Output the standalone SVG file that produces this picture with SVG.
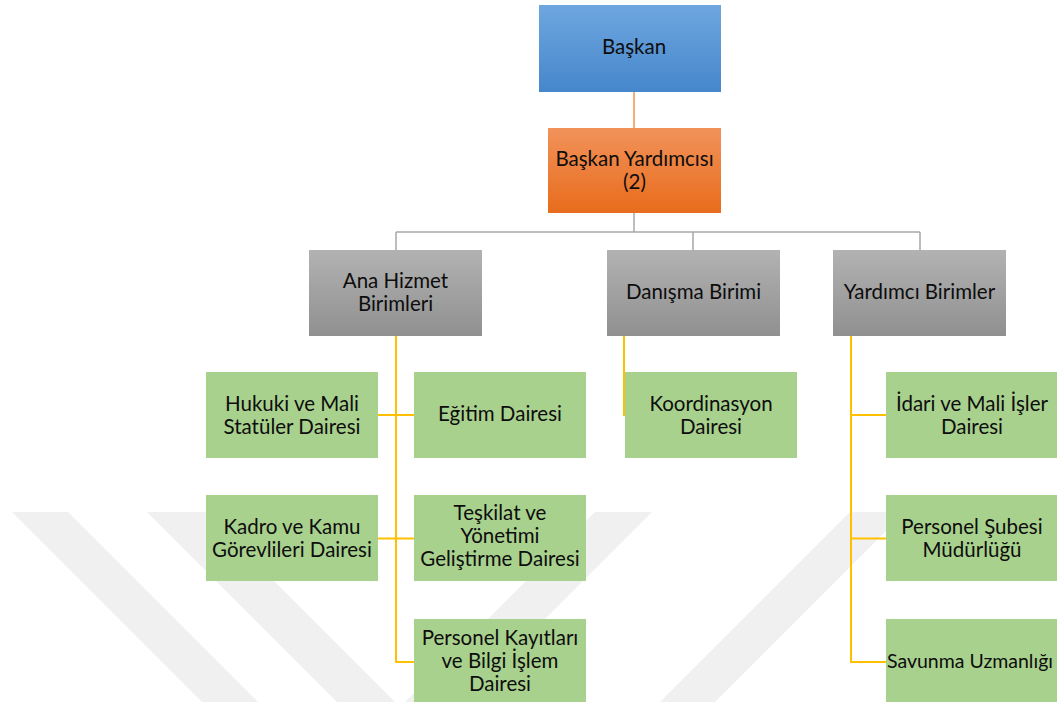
<svg xmlns="http://www.w3.org/2000/svg" width="1057" height="702" viewBox="0 0 1057 702">
  <defs>
    <linearGradient id="gBlue" x1="0" y1="0" x2="0" y2="1">
      <stop offset="0" stop-color="#6ea7e0"/>
      <stop offset="1" stop-color="#4686cb"/>
    </linearGradient>
    <linearGradient id="gOrange" x1="0" y1="0" x2="0" y2="1">
      <stop offset="0" stop-color="#f1925a"/>
      <stop offset="1" stop-color="#e86c1c"/>
    </linearGradient>
    <linearGradient id="gGray" x1="0" y1="0" x2="0" y2="1">
      <stop offset="0" stop-color="#b2b2b2"/>
      <stop offset="1" stop-color="#909090"/>
    </linearGradient>
    <style>
      text { font-family: Lato, "Liberation Sans", sans-serif; font-size: 20.5px; fill: #0d0d0d; text-anchor: middle; }
      .green { fill: #a9d18e; }
      .wm { fill: #f0f0f0; }
      .c-orange { stroke: #f0904c; stroke-width: 1.5; fill: none; }
      .c-gray { stroke: #a8a8a8; stroke-width: 1.5; fill: none; }
      .c-yellow { stroke: #ffc000; stroke-width: 2; fill: none; }
    </style>
  </defs>

  <rect width="1057" height="702" fill="#ffffff"/>

  <!-- faint background emblem -->
  <g id="emblem">
    <polygon class="wm" points="12,512 68,512 258,702 202,702"/>
    <polygon class="wm" points="147,512 205,512 400,707 462,702 652,512 595,512 400,707 337,702"/>
    <polygon class="wm" points="850,512 905,512 715,702 660,702"/>
  </g>

  <!-- connectors -->
  <g id="connectors">
    <path class="c-orange" d="M634,92 V128"/>
    <path class="c-gray" d="M634,213 V232 M396,232 H920 M396,232 V250 M693,232 V250 M920,232 V250"/>
    <path class="c-yellow" d="M396,336 V662 H414 M378,415 H414 M378,538.5 H414"/>
    <path class="c-yellow" d="M624,336 V415 H625"/>
    <path class="c-yellow" d="M851,336 V662 H886 M851,415 H886 M851,538.5 H886"/>
  </g>

  <g id="baskan">
    <rect x="539" y="5" width="182" height="87" fill="url(#gBlue)"/>
    <text x="634" y="54">Başkan</text>
  </g>
  <g id="baskan-yardimcisi">
    <rect x="548" y="128" width="173" height="85" fill="url(#gOrange)"/>
    <text x="634.5" y="166">Başkan Yardımcısı</text>
    <text x="634.5" y="189">(2)</text>
  </g>

  <g id="ana-hizmet">
    <rect x="309" y="250" width="173" height="86" fill="url(#gGray)"/>
    <text x="395.5" y="288">Ana Hizmet</text>
    <text x="395.5" y="311">Birimleri</text>
  </g>
  <g id="danisma">
    <rect x="607" y="250" width="173" height="86" fill="url(#gGray)"/>
    <text x="693.5" y="299">Danışma Birimi</text>
  </g>
  <g id="yardimci">
    <rect x="833" y="250" width="173" height="86" fill="url(#gGray)"/>
    <text x="919.5" y="299">Yardımcı Birimler</text>
  </g>

  <g id="hukuki">
    <rect class="green" x="206" y="372" width="172" height="86"/>
    <text x="292" y="411">Hukuki ve Mali</text>
    <text x="292" y="434">Statüler Dairesi</text>
  </g>
  <g id="egitim">
    <rect class="green" x="414" y="372" width="172" height="86"/>
    <text x="500" y="421">Eğitim Dairesi</text>
  </g>
  <g id="kadro">
    <rect class="green" x="206" y="495" width="172" height="86"/>
    <text x="292" y="534">Kadro ve Kamu</text>
    <text x="292" y="557">Görevlileri Dairesi</text>
  </g>
  <g id="teskilat">
    <rect class="green" x="414" y="495" width="172" height="86"/>
    <text x="500" y="520">Teşkilat ve</text>
    <text x="500" y="543">Yönetimi</text>
    <text x="500" y="566">Geliştirme Dairesi</text>
  </g>
  <g id="personel-kayitlari">
    <rect class="green" x="414" y="619" width="172" height="86"/>
    <text x="500" y="645">Personel Kayıtları</text>
    <text x="500" y="668">ve Bilgi İşlem</text>
    <text x="500" y="691">Dairesi</text>
  </g>

  <g id="koordinasyon">
    <rect class="green" x="625" y="372" width="172" height="86"/>
    <text x="711" y="411">Koordinasyon</text>
    <text x="711" y="434">Dairesi</text>
  </g>

  <g id="idari-mali">
    <rect class="green" x="886" y="372" width="172" height="86"/>
    <text x="972" y="411">İdari ve Mali İşler</text>
    <text x="972" y="434">Dairesi</text>
  </g>
  <g id="personel-subesi">
    <rect class="green" x="886" y="495" width="172" height="86"/>
    <text x="972" y="534">Personel Şubesi</text>
    <text x="972" y="557">Müdürlüğü</text>
  </g>
  <g id="savunma">
    <rect class="green" x="886" y="619" width="172" height="86"/>
    <text x="970" y="668" style="font-size:19.5px">Savunma Uzmanlığı</text>
  </g>
</svg>
